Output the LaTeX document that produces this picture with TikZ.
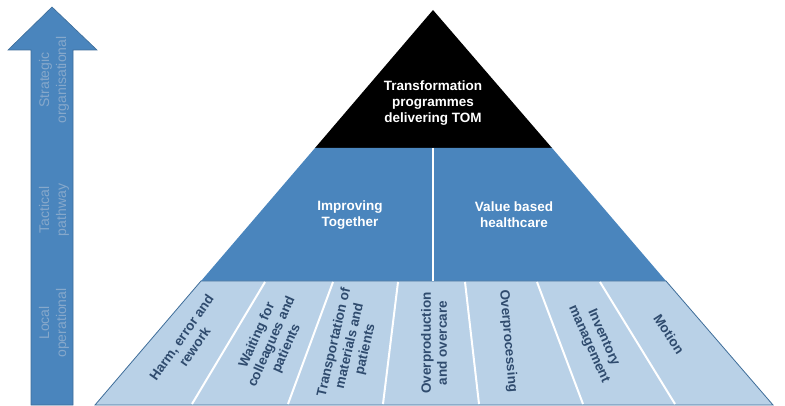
\documentclass[tikz,border=0pt]{standalone}
\usepackage{fontspec}
\setmainfont{Liberation Sans}
\definecolor{midblue}{HTML}{4A85BD}
\definecolor{lightblue}{HTML}{B9D1E7}
\definecolor{edgeblue}{HTML}{3E6D99}
\definecolor{lowtext}{HTML}{2F4B6E}
\definecolor{arrowtext}{HTML}{86A8CB}
\tikzset{
  tier/.style={draw=edgeblue, line width=0.8pt, line join=miter},
  divider/.style={draw=white, line width=2pt},
  toplabel/.style={text=white, align=center, font=\bfseries\fontsize{13.5}{16}\selectfont},
  lowlabel/.style={text=lowtext, align=center, font=\bfseries\fontsize{13.5}{16}\selectfont},
  levellabel/.style={text=arrowtext, align=center, rotate=90, font=\fontsize{14}{17}\selectfont},
}
\begin{document}
\begin{tikzpicture}[x=1pt,y=-1pt]
\useasboundingbox (0,0) rectangle (785,406);
% coordinates of the pyramid
\coordinate (apex) at (433,10);
\coordinate (bl) at (95,405);
\coordinate (br) at (773,405);
\coordinate (ml) at (201,281);
\coordinate (mr) at (666,281);
\coordinate (tl) at (315,148);
\coordinate (tr) at (552,148);
% tiers
\fill[black] (apex) -- (tr) -- (tl) -- cycle;
\fill[midblue] (tl) -- (tr) -- (mr) -- (ml) -- cycle;
\fill[lightblue] (ml) -- (mr) -- (br) -- (bl) -- cycle;
\draw[tier] (ml) -- (mr) -- (br) -- (bl) -- cycle;
% middle divider
\coordinate (mt) at (433,148);
\coordinate (mb) at (433,281);
\draw[divider] (mt) -- (mb);
% bottom dividers
\coordinate (d1t) at (265,282); \coordinate (d1b) at (192,404);
\coordinate (d2t) at (333,282); \coordinate (d2b) at (288,404);
\coordinate (d3t) at (398,282); \coordinate (d3b) at (383,404);
\coordinate (d4t) at (465,282); \coordinate (d4b) at (479,404);
\coordinate (d5t) at (537,282); \coordinate (d5b) at (583,404);
\coordinate (d6t) at (600,282); \coordinate (d6b) at (675,404);
\foreach \i in {1,...,6} \draw[divider] (d\i t) -- (d\i b);
% labels
\node[toplabel] (tom) at (433,103) {Transformation\\programmes\\delivering TOM};
\node[toplabel] (it) at (350,215) {Improving\\Together};
\node[toplabel] (vb) at (514,215) {Value based\\healthcare};
\node[lowlabel, rotate=55] (l1) at (188,342) {Harm, error and\\rework};
\node[lowlabel, rotate=66] (l2) at (272,342) {Waiting for\\colleagues and\\patients};
\node[lowlabel, rotate=77] (l3) at (350,346) {Transportation of\\materials and\\patients};
\node[lowlabel, rotate=90] (l4) at (434,343) {Overproduction\\and overcare};
\node[lowlabel, rotate=-85] (l5) at (508,341) {Overprocessing};
\node[lowlabel, rotate=-66] (l6) at (596,341) {Inventory\\management};
\node[lowlabel, rotate=-57] (l7) at (669,334) {Motion};
% arrow
\fill[midblue, draw=edgeblue, line width=0.6pt]
  (31,405) -- (31,50) -- (8,50) -- (52,7) -- (97,50) -- (73,50) -- (73,405) -- cycle;
\node[levellabel] (s) at (54,80) {Strategic\\organisational};
\node[levellabel] (t) at (54,210) {Tactical\\pathway};
\node[levellabel] (l) at (54,323) {Local\\operational};
\end{tikzpicture}
\end{document}
